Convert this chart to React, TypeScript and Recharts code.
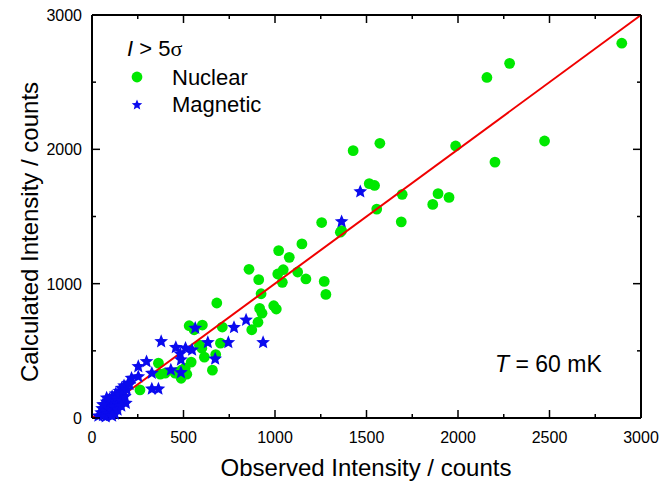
import { ScatterChart, Scatter, XAxis, YAxis, ReferenceLine } from "recharts";

// observed vs calculated intensities (counts)
const nuclearObs = [
  2895, 2282, 2158, 1573, 1427, 1987, 2473, 2202, 1515, 1544, 1695, 1891, 1951,
  1862, 1556, 1690, 1364, 1357, 1255, 1147, 1020, 1078, 858, 1015, 1045, 1124,
  1040, 1169, 1269, 1278, 911, 924, 916, 929, 993, 1007, 907, 873, 682, 531, 558,
  603, 712, 587, 600, 702, 542, 614, 676, 658, 363, 400, 467, 518, 487, 373, 454,
  491, 509, 262,
];
const nuclearCalc = [
  2790, 2640, 2535, 2045, 1990, 2025, 2062, 1905, 1745, 1731, 1665, 1670, 1642,
  1590, 1555, 1460, 1395, 1383, 1455, 1296, 1246, 1196, 1107, 1072, 1104, 1087,
  1010, 1035, 1017, 920, 1030, 925, 816, 780, 836, 811, 713, 657, 856, 687, 657,
  692, 677, 542, 520, 557, 416, 453, 472, 356, 408, 334, 341, 326, 296, 326, 334,
  358, 371, 209,
];

const magneticObs = [
  1466, 1364, 842, 776, 564, 378, 458, 511, 547, 633, 745, 935, 482, 486, 673,
  431, 486, 327, 327, 363, 253, 298, 216, 253, 198, 162, 185, 35, 50, 55, 60, 65,
  70, 75, 80, 85, 90, 95, 100, 105, 110, 115, 120, 125, 130, 135, 140, 150, 155,
  160, 170, 175, 180, 190, 205, 140, 110, 80, 60, 160,
];
const magneticCalc = [
  1685, 1462, 729, 674, 669, 569, 525, 520, 507, 562, 562, 562, 478, 433, 440,
  358, 338, 334, 216, 216, 383, 420, 296, 308, 259, 222, 110, 15, 40, 70, 20, 95,
  50, 10, 120, 75, 30, 140, 100, 55, 160, 125, 80, 30, 180, 150, 105, 200, 170,
  130, 190, 240, 160, 210, 250, 60, 15, 150, 100, 90,
];

const fitLine = [0, 3000];
const xTicks = [0, 250, 500, 750, 1000, 1250, 1500, 1750, 2000, 2250, 2500, 2750, 3000];
const yTicks = [0, 500, 1000, 1500, 2000, 2500, 3000];

const nuclear = nuclearObs.map((x, i) => ({ x, y: nuclearCalc[i] }));
const magnetic = magneticObs.map((x, i) => ({ x, y: magneticCalc[i] }));
const fit = fitLine.map((v) => ({ x: v, y: v }));

const W = 663;
const H = 487;
const LEFT = 92;
const RIGHT = 641;
const TOP = 15;
const BOTTOM = 418;
const FONT = "'Liberation Sans', Arial, sans-serif";
const GREEN = "#00e800";
const BLUE = "#0a0aee";

const starPoints = (cx: number, cy: number, r: number) => {
  const pts: string[] = [];
  for (let i = 0; i < 10; i++) {
    const rad = i % 2 === 0 ? r : r * 0.45;
    const a = -Math.PI / 2 + (i * Math.PI) / 5;
    pts.push(`${cx + rad * Math.cos(a)},${cy + rad * Math.sin(a)}`);
  }
  return pts.join(" ");
};

const Dot = (p: any) => <circle cx={p.cx} cy={p.cy} r={5.4} fill={GREEN} />;
const Star = (p: any) => <polygon points={starPoints(p.cx, p.cy, 7.2)} fill={BLUE} />;
const NoDot = () => <g />;

const XTick = (p: any) => {
  const v = p.payload.value;
  const major = v % 500 === 0;
  const len = major ? 8 : 4;
  return (
    <g>
      <line x1={p.x} x2={p.x} y1={BOTTOM} y2={BOTTOM - len} stroke="#000" strokeWidth={1.5} />
      <line x1={p.x} x2={p.x} y1={TOP} y2={TOP + len} stroke="#000" strokeWidth={1.5} />
      {major && (
        <text x={p.x} y={BOTTOM + 25} textAnchor="middle" fontSize={16} fontFamily={FONT} fill="#000">
          {v}
        </text>
      )}
    </g>
  );
};

const YTick = (p: any) => {
  const v = p.payload.value;
  const major = v % 1000 === 0;
  const len = major ? 8 : 4;
  return (
    <g>
      <line x1={LEFT} x2={LEFT + len} y1={p.y} y2={p.y} stroke="#000" strokeWidth={1.5} />
      <line x1={RIGHT} x2={RIGHT - len} y1={p.y} y2={p.y} stroke="#000" strokeWidth={1.5} />
      {major && (
        <text x={LEFT - 10} y={p.y + 6} textAnchor="end" fontSize={16} fontFamily={FONT} fill="#000">
          {v}
        </text>
      )}
    </g>
  );
};

export default function App() {
  return (
    <div style={{ position: "absolute", left: 0, top: 0, width: W, height: H, background: "#fff" }}>
      <ScatterChart
        width={W}
        height={H}
        margin={{ top: TOP, right: W - RIGHT, left: 0, bottom: 0 }}
      >
        <XAxis
          type="number"
          dataKey="x"
          domain={[0, 3000]}
          ticks={xTicks}
          tick={<XTick />}
          tickLine={false}
          tickSize={0}
          height={H - BOTTOM}
          axisLine={{ stroke: "#000", strokeWidth: 2 }}
          interval={0}
        />
        <YAxis
          type="number"
          dataKey="y"
          domain={[0, 3000]}
          ticks={yTicks}
          tick={<YTick />}
          tickLine={false}
          tickSize={0}
          width={LEFT}
          axisLine={{ stroke: "#000", strokeWidth: 2 }}
          interval={0}
        />
        <ReferenceLine y={3000} stroke="#000" strokeWidth={2} />
        <ReferenceLine x={3000} stroke="#000" strokeWidth={2} />
        <Scatter data={nuclear} shape={Dot} isAnimationActive={false} />
        <Scatter
          data={fit}
          line={{ stroke: "#f00000", strokeWidth: 2 }}
          shape={NoDot}
          isAnimationActive={false}
        />
        <Scatter data={magnetic} shape={Star} isAnimationActive={false} />
      </ScatterChart>
      <svg
        width={W}
        height={H}
        style={{ position: "absolute", left: 0, top: 0, pointerEvents: "none" }}
      >
        <g fontFamily={FONT} fill="#000">
          <text x={127} y={56} fontSize={22}>
            <tspan fontStyle="italic">I</tspan>
            <tspan> &gt; 5</tspan>
            <tspan fontFamily="'Liberation Serif', serif">σ</tspan>
          </text>
          <circle cx={137} cy={77} r={5.4} fill={GREEN} />
          <text x={172} y={85} fontSize={22}>Nuclear</text>
          <polygon points={starPoints(137, 105, 5.5)} fill={BLUE} />
          <text x={172} y={112} fontSize={22}>Magnetic</text>
          <text x={495} y={372} fontSize={23}>
            <tspan fontStyle="italic">T</tspan>
            <tspan> = 60 mK</tspan>
          </text>
          <text x={366} y={476} fontSize={24} textAnchor="middle">
            Observed Intensity / counts
          </text>
          <text
            x={0}
            y={0}
            fontSize={24}
            textAnchor="middle"
            transform="translate(38, 232) rotate(-90)"
          >
            Calculated Intensity / counts
          </text>
        </g>
      </svg>
    </div>
  );
}
